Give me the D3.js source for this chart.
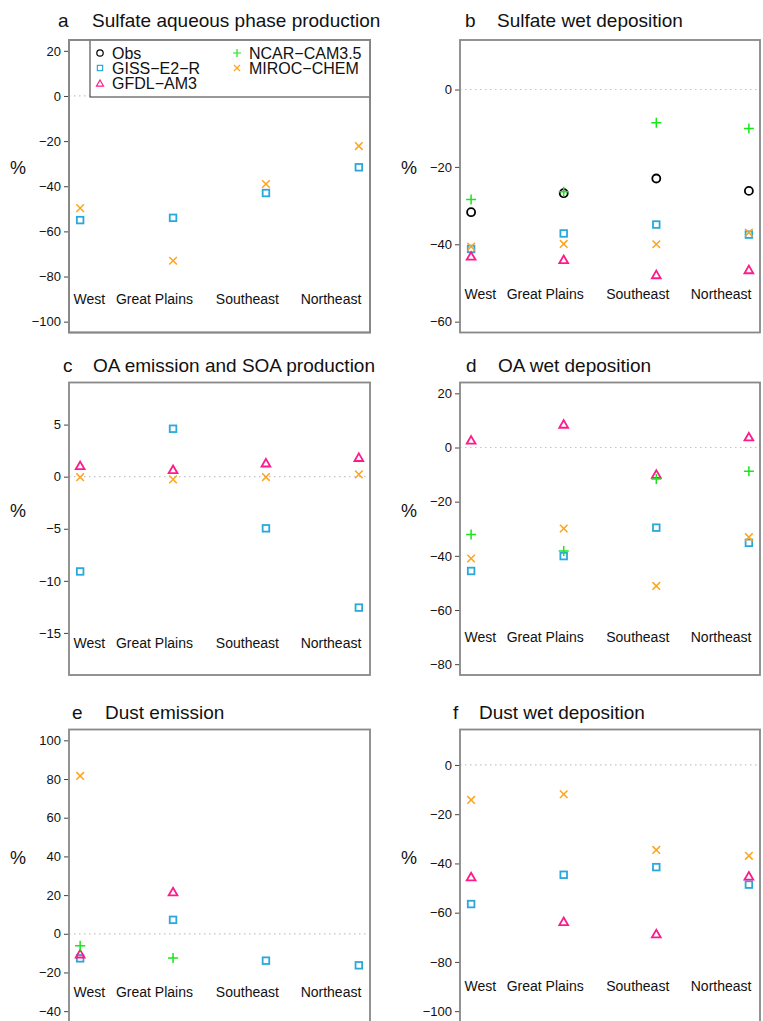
<!DOCTYPE html>
<html>
<head>
<meta charset="utf-8">
<script src="https://cdn.jsdelivr.net/npm/d3@7"></script>
<style>
  body { margin: 0; background: #fff; }
  svg { font-family: "Liberation Sans", Arial, Helvetica, sans-serif; }
</style>
</head>
<body>
<svg id="chart" width="763" height="1021"></svg>
<script>
// regions along x and the models plotted
var regions = ["West", "Great Plains", "Southeast", "Northeast"];
var models = ["Obs", "GISS\u2212E2\u2212R", "GFDL\u2212AM3", "NCAR\u2212CAM3.5", "MIROC\u2212CHEM"];
var modelColors = ["#000000", "#2aa8dc", "#ff1a8c", "#19e619", "#ffa31a"];
var modelShapes = ["circle", "square", "triangle", "plus", "cross"];

// % change per region, one entry per model (null = model not shown)
var sulfAqueous = [null, [-55, -54, -43, -31.6], null, null, [-49.7, -73, -39, -22.2]];
var sulfWetDep = [
  [-31.7, -26.8, -23, -26.2],
  [-41.2, -37.2, -34.9, -37.5],
  [-43, -43.9, -47.8, -46.5],
  [-28.4, -26.4, -8.6, -10.1],
  [-40.6, -39.9, -40, -37]
];
var oaEmission = [null, [-9.1, 4.6, -4.96, -12.57], [1.08, 0.7, 1.34, 1.87], null, [-0.05, -0.26, -0.04, 0.22]];
var oaWetDep = [null, [-45.6, -40.1, -29.6, -35.2], [2.8, 8.7, -9.8, 4.0], [-32.1, -38.2, -11.6, -8.8], [-41, -29.9, -51.1, -33.1]];
var dustEmission = [null, [-12.7, 7.2, -13.9, -16.3], [-10.3, 21.8, null, null], [-6.2, -12.5, null, null], [81.6, null, null, null]];
var dustWetDep = [null, [-56.5, -44.6, -41.5, -48.6], [-45.3, -63.5, -68.5, -45], null, [-14.2, -11.9, -34.5, -36.9]];

var panelLetters = ["a", "b", "c", "d", "e", "f"];
var panelTitles = ["Sulfate aqueous phase production", "Sulfate wet deposition",
  "OA emission and SOA production", "OA wet deposition", "Dust emission", "Dust wet deposition"];
var panelData = [sulfAqueous, sulfWetDep, oaEmission, oaWetDep, dustEmission, dustWetDep];
var yLimits = [[-100, 20], [-60, 10], [-18, 8], [-80, 20], [-40, 100], [-100, 10]];
var yTicks = [
  [-100, -80, -60, -40, -20, 0, 20],
  [-60, -40, -20, 0],
  [-15, -10, -5, 0, 5],
  [-80, -60, -40, -20, 0, 20],
  [-40, -20, 0, 20, 40, 60, 80, 100],
  [-100, -80, -60, -40, -20, 0]
];
// where the region names sit (data units)
var labelY = [-90, -53, -16, -70, -30, -90];
var labelX = [1.1, 1.8, 2.8, 3.7];

// layout
var colLeft = [69, 460], colRight = [370, 760];
var rowTop = [40, 382.5, 729.5], boxH = 292.5;
var titleBase = [26.5, 372, 719];
var letterX = [58, 465, 63, 466, 72, 453];
var titleX = [92, 497, 93, 498, 105, 479];

var svg = d3.select("#chart");
svg.append("rect").attr("width", 763).attr("height", 1021).attr("fill", "#fff");

function padded(lo, hi) {
  // R style 4% extension
  var d = (hi - lo) * 0.04;
  return [lo - d, hi + d];
}

function drawMarker(g, shape, color, cx, cy, big) {
  var k = big ? 1 : 0.8;
  var sw = big ? 1.8 : 1.2;
  var m;
  if (shape == "circle") {
    m = g.append("circle").attr("cx", cx).attr("cy", cy).attr("r", 4 * k);
  } else if (shape == "square") {
    var h = 3.3 * k;
    m = g.append("rect").attr("x", cx - h).attr("y", cy - h).attr("width", 2 * h).attr("height", 2 * h);
  } else if (shape == "triangle") {
    var w = 4.4 * k, t = 3.8 * k;
    m = g.append("path").attr("d", "M" + cx + "," + (cy - t) + "L" + (cx + w) + "," + (cy + t) + "L" + (cx - w) + "," + (cy + t) + "Z");
  } else if (shape == "plus") {
    var p = 5 * k;
    m = g.append("path").attr("d", "M" + (cx - p) + "," + cy + "H" + (cx + p) + "M" + cx + "," + (cy - p) + "V" + (cy + p));
    sw = big ? 1.5 : 1.2;
  } else {
    var c = 3.8 * k;
    m = g.append("path").attr("d", "M" + (cx - c) + "," + (cy - c) + "L" + (cx + c) + "," + (cy + c) + "M" + (cx - c) + "," + (cy + c) + "L" + (cx + c) + "," + (cy - c));
    sw = big ? 1.5 : 1.2;
  }
  m.attr("fill", "none").attr("stroke", color).attr("stroke-width", sw);
}

function drawPanel(i) {
  var col = i % 2, row = Math.floor(i / 2);
  var x0 = colLeft[col], x1 = colRight[col];
  var y0 = rowTop[row], y1 = y0 + boxH;

  var x = d3.scaleLinear().domain(padded(1, 4)).range([x0, x1]);
  var y = d3.scaleLinear().domain(padded(yLimits[i][0], yLimits[i][1])).range([y1, y0]);

  var g = svg.append("g").attr("class", "panel");

  // zero reference line
  g.append("line")
    .attr("x1", x0).attr("x2", x1)
    .attr("y1", y(0)).attr("y2", y(0))
    .attr("stroke", "#c4c4c4").attr("stroke-width", 1.2)
    .attr("stroke-dasharray", "1.5,3.5");

  // y axis
  var ax = g.append("g")
    .attr("transform", "translate(" + x0 + ",0)")
    .call(d3.axisLeft(y).tickValues(yTicks[i]).tickSize(5).tickPadding(3));
  ax.select(".domain").remove();
  ax.selectAll(".tick line").attr("stroke", "#444");
  ax.selectAll(".tick text").attr("font-size", 13).attr("fill", "#111")
    .attr("font-family", "Liberation Sans, Arial, sans-serif");

  // region labels
  g.selectAll(".region")
    .data(regions)
    .enter().append("text")
    .attr("class", "region")
    .attr("x", function(d, j) { return x(labelX[j]); })
    .attr("y", y(labelY[i]))
    .attr("dy", "0.35em")
    .attr("text-anchor", "middle")
    .attr("font-size", 14)
    .attr("fill", "#111")
    .text(function(d) { return d; });

  // markers, Obs first so models sit on top
  var data = panelData[i];
  for (var m = 0; m < models.length; m++) {
    if (!data[m]) continue;
    for (var r = 0; r < regions.length; r++) {
      if (data[m][r] == null) continue;
      drawMarker(g, modelShapes[m], modelColors[m], x(r + 1), y(data[m][r]), true);
    }
  }

  // plot box
  g.append("rect")
    .attr("x", x0).attr("y", y0)
    .attr("width", x1 - x0).attr("height", boxH)
    .attr("fill", "none").attr("stroke", "#888").attr("stroke-width", 1.8);

  // % label
  g.append("text")
    .attr("x", x0 - 51).attr("y", y0 + 128)
    .attr("dy", "0.35em")
    .attr("text-anchor", "middle")
    .attr("font-size", 18)
    .attr("fill", "#111")
    .text("%");

  // title
  g.append("text").attr("x", letterX[i]).attr("y", titleBase[row])
    .attr("font-size", 19).attr("fill", "#111").text(panelLetters[i]);
  g.append("text").attr("x", titleX[i]).attr("y", titleBase[row])
    .attr("font-size", 19).attr("fill", "#111").text(panelTitles[i]);
}

for (var i = 0; i < 6; i++) drawPanel(i);

// legend (inside panel a, top right)
var legend = svg.append("g").attr("class", "legend");
legend.append("rect")
  .attr("x", 90).attr("y", 40).attr("width", 280).attr("height", 57)
  .attr("fill", "#fff").attr("stroke", "#333").attr("stroke-width", 1);
var legX = [100, 237], legY = [53, 68, 83];
models.forEach(function(name, k) {
  var c = k < 3 ? 0 : 1, rr = k < 3 ? k : k - 3;
  drawMarker(legend, modelShapes[k], modelColors[k], legX[c], legY[rr], false);
  legend.append("text")
    .attr("x", legX[c] + 12).attr("y", legY[rr])
    .attr("dy", "0.35em")
    .attr("font-size", 16).attr("fill", "#111")
    .text(name);
});
// redraw panel a box edge over the legend border
svg.append("rect")
  .attr("x", colLeft[0]).attr("y", rowTop[0])
  .attr("width", colRight[0] - colLeft[0]).attr("height", boxH)
  .attr("fill", "none").attr("stroke", "#888").attr("stroke-width", 1.8);
</script>
</body>
</html>
